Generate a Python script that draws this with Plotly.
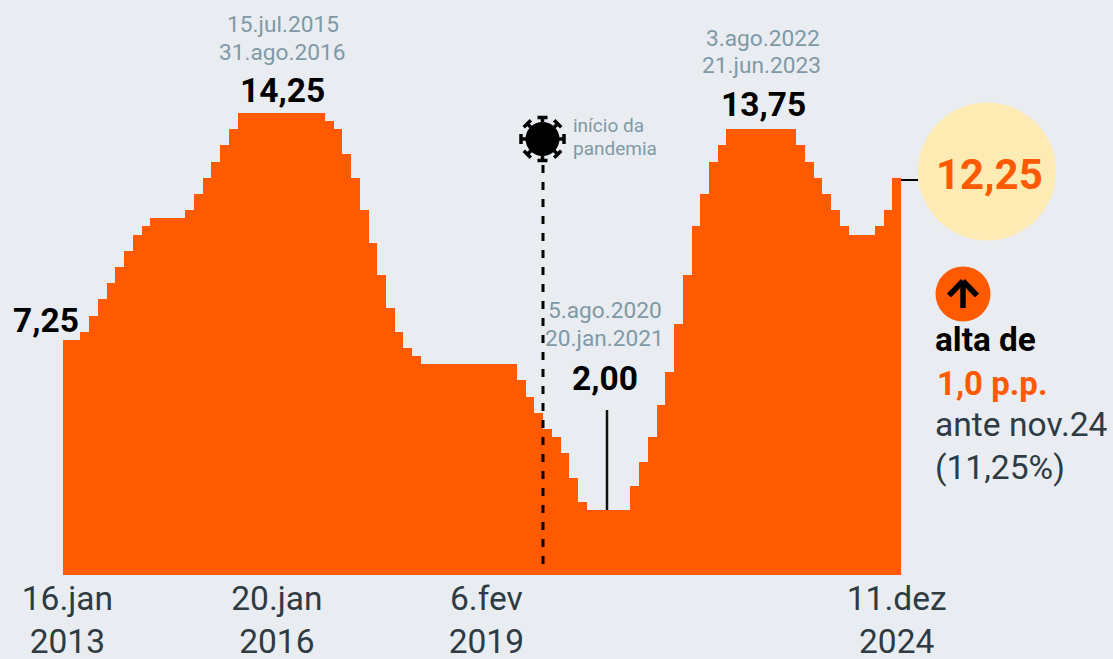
import math
import plotly.graph_objects as go

# Selic target at each Copom meeting (8 per year), Jan 2013 to Dec 2024
selic_2013 = [7.25, 7.25, 7.5, 8.0, 8.5, 9.0, 9.5, 10.0]
selic_2014 = [10.5, 10.75, 11.0, 11.0, 11.0, 11.0, 11.25, 11.75]
selic_2015 = [12.25, 12.75, 13.25, 13.75, 14.25, 14.25, 14.25, 14.25]
selic_2016 = [14.25, 14.25, 14.25, 14.25, 14.25, 14.25, 14.0, 13.75]
selic_2017 = [13.0, 12.25, 11.25, 10.25, 9.25, 8.25, 7.5, 7.0]
selic_2018 = [6.75, 6.5, 6.5, 6.5, 6.5, 6.5, 6.5, 6.5]
selic_2019 = [6.5, 6.5, 6.5, 6.5, 6.0, 5.5, 5.0, 4.5]
selic_2020 = [4.25, 3.75, 3.0, 2.25, 2.0, 2.0, 2.0, 2.0]
selic_2021 = [2.0, 2.75, 3.5, 4.25, 5.25, 6.25, 7.75, 9.25]
selic_2022 = [10.75, 11.75, 12.75, 13.25, 13.75, 13.75, 13.75, 13.75]
selic_2023 = [13.75, 13.75, 13.75, 13.75, 13.25, 12.75, 12.25, 11.75]
selic_2024 = [11.25, 10.75, 10.5, 10.5, 10.5, 10.75, 11.25, 12.25]
values = (selic_2013 + selic_2014 + selic_2015 + selic_2016 + selic_2017 + selic_2018
          + selic_2019 + selic_2020 + selic_2021 + selic_2022 + selic_2023 + selic_2024)
meetings = list(range(len(values)))

tick_positions = [0, 24, 48, 95]
tick_labels = ["16.jan<br>2013", "20.jan<br>2016", "6.fev<br>2019", "11.dez<br>2024"]

BG = "#e9edf1"
ORANGE = "#ff5a00"
CREAM = "#feeab3"
GREY = "#7f99a6"
DARK = "#2e3b43"
FONT = "Roboto"

W, H = 1113, 659
L, R, T, B = 63, 901, 0, 575


def xp(px):
    return (px - L) / (R - L)


def yp(py):
    return (B - py) / (B - T)


fig = go.Figure(go.Bar(x=meetings, y=values, marker=dict(color=ORANGE, line=dict(width=0)),
                       hoverinfo="skip"))

annotations = []


def label(text, px, py, size, color, bold=False, anchor="center"):
    annotations.append(dict(
        xref="paper", yref="paper", x=xp(px), y=yp(py), text=text, showarrow=False,
        xanchor=anchor, yanchor="middle",
        font=dict(family=FONT, size=size, color=color, weight=700 if bold else 400),
    ))


label("7,25", 46, 320, 33.5, "#000000", True)
label("15.jul.2015", 282.5, 25, 22.7, GREY)
label("31.ago.2016", 282.5, 53, 22.7, GREY)
label("14,25", 282.5, 91, 33.5, "#000000", True)
label("3.ago.2022", 762.5, 39, 22.7, GREY)
label("21.jun.2023", 761.5, 66, 22.7, GREY)
label("13,75", 763, 105, 33.5, "#000000", True)
label("5.ago.2020", 604.5, 310, 22.7, GREY)
label("20.jan.2021", 604, 338, 22.7, GREY)
label("2,00", 605, 378, 33.5, "#000000", True)
label("início da", 570.5, 125.5, 19, GREY, anchor="left")
label("pandemia", 570.5, 149, 19, GREY, anchor="left")
label("12,25", 989.5, 174, 42, ORANGE, True)
label("alta de", 933.5, 340, 33.3, "#000000", True, "left")
label("1,0 p.p.", 934.5, 383, 33, ORANGE, True, "left")
label("ante nov.24", 933.5, 424, 33.6, DARK, anchor="left")
label("(11,25%)", 933.5, 467, 33.6, DARK, anchor="left")

shapes = []


def pline(x0, y0, x1, y1, color="#000000", width=2, dash="solid"):
    shapes.append(dict(type="line", xref="paper", yref="paper", x0=xp(x0), y0=yp(y0),
                       x1=xp(x1), y1=yp(y1), line=dict(color=color, width=width, dash=dash)))


def pcircle(cx, cy, r, color):
    shapes.append(dict(type="circle", xref="paper", yref="paper", x0=xp(cx - r), x1=xp(cx + r),
                       y0=yp(cy + r), y1=yp(cy - r), fillcolor=color, line=dict(width=0)))


# dashed pandemic marker and 2,00 leader
pline(543, 165, 543, 572, width=3, dash="8px,9px")
pline(607, 410, 607, 510, color="#111111", width=2.5)
# leader to the big circle
pline(901, 180, 918, 180, width=2)
pcircle(987, 171.5, 69, CREAM)

# virus
vx, vy = 542.5, 139
pcircle(vx, vy, 17, "#000000")
for k in range(8):
    a = k * math.pi / 4
    ca, sa = math.cos(a), math.sin(a)
    pline(vx + 14 * ca, vy + 14 * sa, vx + 21.5 * ca, vy + 21.5 * sa, width=3.5)
    pline(vx + 21.5 * ca - 5 * sa, vy + 21.5 * sa + 5 * ca,
          vx + 21.5 * ca + 5 * sa, vy + 21.5 * sa - 5 * ca, width=3.5)

# up arrow badge
pcircle(963, 294, 27.5, ORANGE)
pline(963, 282, 963, 308, width=5.5)
pline(949, 295.5, 963, 281, width=5.5)
pline(977, 295.5, 963, 281, width=5.5)

fig.update_layout(
    width=W, height=H, autosize=False,
    margin=dict(l=L, r=W - R, t=T, b=H - B, pad=0),
    paper_bgcolor=BG, plot_bgcolor=BG,
    showlegend=False, bargap=0,
    font=dict(family=FONT, color=DARK),
    annotations=annotations, shapes=shapes,
    xaxis=dict(range=[-0.5, 95.5], tickmode="array", tickvals=tick_positions, ticktext=tick_labels,
               showgrid=False, zeroline=False, showline=False, ticks="",
               tickfont=dict(family=FONT, size=33.5, color=DARK), tickangle=0, automargin=False),
    yaxis=dict(range=[0, (B - T) / 32.42], visible=False, fixedrange=True),
)

fig.write_html("out.html", config=dict(displayModeBar=False),
               post_script=f"document.body.style.margin='0';document.body.style.background='{BG}';")
